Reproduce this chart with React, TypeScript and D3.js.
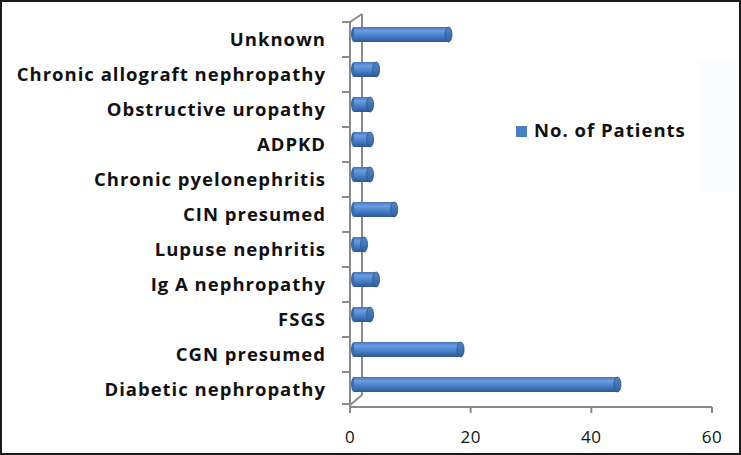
import React from 'react';
import * as d3 from 'd3';

const categories = [
  'Unknown',
  'Chronic allograft nephropathy',
  'Obstructive uropathy',
  'ADPKD',
  'Chronic pyelonephritis',
  'CIN presumed',
  'Lupuse nephritis',
  'Ig A nephropathy',
  'FSGS',
  'CGN presumed',
  'Diabetic nephropathy',
];
const patients = [16, 4, 3, 3, 3, 7, 2, 4, 3, 18, 44];
const xTicks = [0, 20, 40, 60];
const seriesName = 'No. of Patients';

const W = 741;
const H = 455;
const depthX = 12;
const depthY = -8;

const App = () => {
  const x = d3.scaleLinear().domain([0, 60]).range([350, 712]);
  const y = d3.scaleBand().domain(categories).range([22, 407]);
  const x0 = x(0);
  const top = y.range()[0];
  const bottom = y.range()[1];
  const barH = 15;
  const font = '"Open Sans", "DejaVu Sans", sans-serif';

  return (
    <svg width={W} height={H} style={{ position: 'absolute', left: 0, top: 0 }}>
      <defs>
        <linearGradient id="cyl" x1="0" y1="0" x2="0" y2="1">
          <stop offset="0%" stopColor="#4474b4" />
          <stop offset="25%" stopColor="#6c9de2" />
          <stop offset="55%" stopColor="#4c84cf" />
          <stop offset="100%" stopColor="#2c5792" />
        </linearGradient>
        <linearGradient id="cap" x1="0" y1="0" x2="0" y2="1">
          <stop offset="0%" stopColor="#5586c9" />
          <stop offset="100%" stopColor="#30609e" />
        </linearGradient>
      </defs>
      <rect x={0} y={0} width={W} height={H} fill="#fff" />

      {/* faint shading on the right */}
      <rect x={700} y={62} width={36} height={130} fill="#fafbfc" />

      {/* 3d wall / axis lines */}
      <g stroke="#8a8a8a" strokeWidth={2} fill="none">
        <line x1={x0} y1={top} x2={x0} y2={bottom} />
        <line x1={x0 + depthX} y1={top + depthY} x2={x0 + depthX} y2={bottom + depthY - 4} />
        <line x1={x0} y1={top} x2={x0 + depthX} y2={top + depthY} />
        <line x1={x0} y1={bottom - 2} x2={x0 + depthX} y2={bottom + depthY - 4} />
        <line x1={x0} y1={bottom} x2={x(60)} y2={bottom} />
        {categories.map((c) => (
          <line key={c} x1={x0 - 8} x2={x0} y1={y(c)!} y2={y(c)!} />
        ))}
        <line x1={x0 - 8} x2={x0} y1={bottom - 3} y2={bottom - 3} />
        {xTicks.map((t) => (
          <line key={t} x1={x(t)} x2={x(t)} y1={bottom} y2={bottom + 6} />
        ))}
      </g>

      {/* bars */}
      {categories.map((c, i) => {
        const cy = y(c)! + y.bandwidth() / 2 - 5;
        const xs = x0 + 4;
        const xe = x(patients[i]) + 2;
        return (
          <g key={c}>
            <ellipse cx={xs} cy={cy} rx={3} ry={barH / 2} fill="#3a6aa8" />
            <rect x={xs} y={cy - barH / 2} width={xe - xs} height={barH} fill="url(#cyl)" />
            <ellipse cx={xe} cy={cy} rx={3.5} ry={barH / 2} fill="url(#cap)" stroke="#2b5487" strokeWidth={0.8} />
          </g>
        );
      })}

      {/* category labels */}
      {categories.map((c) => (
        <text
          key={c}
          x={326}
          y={y(c)! + y.bandwidth() / 2}
          dy="0.35em"
          textAnchor="end"
          fontFamily={font}
          fontWeight="bold"
          fontSize={18.5}
          letterSpacing={1}
          fill="#111"
        >
          {c}
        </text>
      ))}

      {/* x tick labels */}
      {xTicks.map((t) => (
        <text
          key={t}
          x={x(t)}
          y={437}
          dy="0.35em"
          textAnchor="middle"
          fontFamily={font}
          fontSize={17}
          letterSpacing={0.5}
          fill="#111"
        >
          {t}
        </text>
      ))}

      {/* legend */}
      <rect x={516} y={126} width={11} height={11} fill="#4a7fc8" />
      <text x={534} y={131} dy="0.35em" fontFamily={font} fontWeight="bold" fontSize={18.5} letterSpacing={1} fill="#111">
        {seriesName}
      </text>

      <rect x={1} y={1} width={W - 2} height={H - 2} fill="none" stroke="#1a1a1a" strokeWidth={2} />
    </svg>
  );
};

export default App;
